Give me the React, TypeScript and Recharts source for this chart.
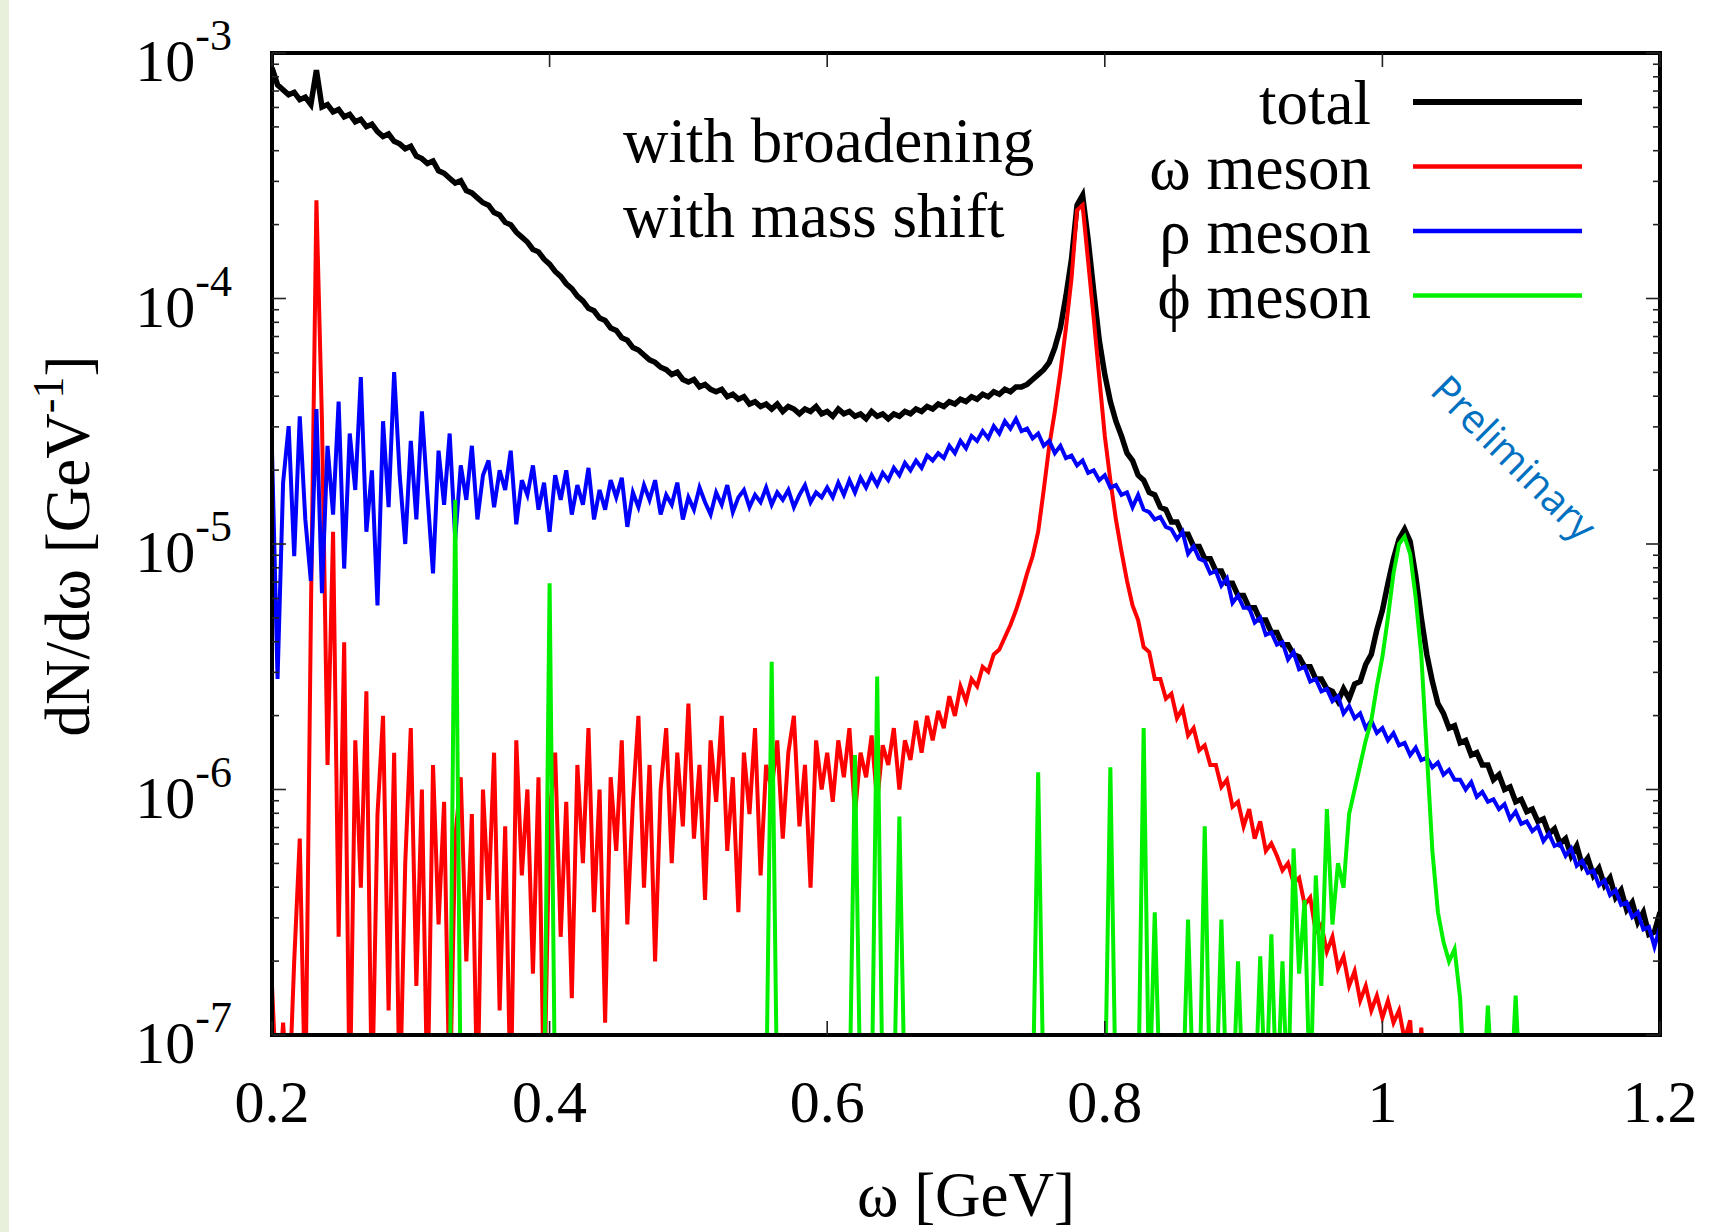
import { Line, LineChart, XAxis, YAxis } from "recharts";

// bin grid of the histogram (GeV)
const W_START = 0.2;
const W_STEP = 0.004;

// log10 of dN/dω, one value per bin
const totalLog = [
  -3.06, -3.13, -3.15, -3.17, -3.16, -3.19, -3.18, -3.21, -3.07, -3.22,
  -3.21, -3.24, -3.23, -3.26, -3.25, -3.28, -3.27, -3.3, -3.29, -3.32,
  -3.34, -3.33, -3.36, -3.37, -3.39, -3.38, -3.42, -3.43, -3.45, -3.44,
  -3.48, -3.49, -3.51, -3.53, -3.52, -3.56, -3.57, -3.59, -3.61, -3.62,
  -3.65, -3.66, -3.69, -3.7, -3.73, -3.75, -3.77, -3.8, -3.81, -3.84,
  -3.86, -3.89, -3.91, -3.94, -3.96, -3.99, -4.01, -4.04, -4.05, -4.08,
  -4.09, -4.12, -4.13, -4.16, -4.17, -4.2, -4.21, -4.23, -4.25, -4.26,
  -4.28, -4.29, -4.31, -4.3, -4.33, -4.34, -4.33, -4.36, -4.35, -4.37,
  -4.38, -4.37, -4.4, -4.39, -4.41, -4.4, -4.43, -4.42, -4.44, -4.43,
  -4.45, -4.43, -4.46, -4.44, -4.45, -4.47, -4.45, -4.46, -4.44, -4.47,
  -4.46, -4.48, -4.45, -4.47, -4.46, -4.48, -4.47, -4.49, -4.46, -4.48,
  -4.47, -4.49, -4.47, -4.48, -4.46, -4.47, -4.45, -4.46, -4.44, -4.45,
  -4.43, -4.44, -4.42, -4.43, -4.41, -4.42, -4.4, -4.41, -4.39, -4.4,
  -4.38, -4.39, -4.37, -4.38, -4.36, -4.36, -4.35, -4.33, -4.31, -4.29,
  -4.26, -4.2, -4.12, -3.99, -3.84, -3.62, -3.58, -3.76, -3.97, -4.17,
  -4.31, -4.42, -4.5, -4.56, -4.63, -4.66, -4.72, -4.74, -4.79, -4.8,
  -4.85, -4.86, -4.91, -4.91, -4.96, -4.96, -5.01, -5.01, -5.06, -5.06,
  -5.11, -5.11, -5.16, -5.16, -5.21, -5.21, -5.26, -5.26, -5.31, -5.31,
  -5.36, -5.36, -5.41, -5.41, -5.45, -5.46, -5.5, -5.5, -5.55, -5.55,
  -5.59, -5.6, -5.64, -5.59, -5.63, -5.57, -5.56, -5.49, -5.45, -5.35,
  -5.27, -5.16, -5.06, -4.98, -4.94, -4.99, -5.13, -5.3, -5.45, -5.56,
  -5.65, -5.69, -5.75, -5.74, -5.81, -5.8, -5.86, -5.85, -5.9, -5.9,
  -5.96, -5.94, -6.0, -5.99, -6.05, -6.04, -6.09, -6.08, -6.13, -6.12,
  -6.18, -6.16, -6.22, -6.2, -6.27, -6.23, -6.31, -6.28, -6.35, -6.32,
  -6.39, -6.36, -6.44, -6.41, -6.49, -6.46, -6.54, -6.5, -6.59, -6.58,
  -6.5,
];

const omegaLog = [
  -6.8, -7.3, -6.95, -7.3, -6.7, -6.2, -7.3, -5.3, -3.6, -4.5,
  -5.9, -4.95, -6.6, -5.4, -7.3, -5.8, -6.4, -5.6, -7.3, -6.1,
  -5.7, -6.9, -5.85, -7.3, -6.3, -5.75, -6.8, -6.0, -7.3, -5.9,
  -6.55, -6.05, -7.3, -6.2, -5.95, -6.7, -6.1, -7.3, -6.0, -6.45,
  -5.85, -6.9, -6.15, -7.3, -5.8, -6.35, -6.0, -6.75, -5.95, -7.3,
  -6.1, -5.85, -6.6, -6.05, -6.85, -5.9, -6.3, -5.75, -6.5, -6.0,
  -6.95, -5.95, -6.25, -5.8, -6.55, -6.05, -5.7, -6.4, -5.9, -6.7,
  -6.0, -5.75, -6.3, -5.85, -6.15, -5.65, -6.2, -5.9, -6.45, -5.8,
  -6.05, -5.7, -6.25, -5.95, -6.5, -5.85, -6.1, -5.75, -6.35, -5.9,
  -6.0, -5.8, -6.2, -5.85, -5.7, -6.15, -5.9, -6.4, -5.8, -6.0,
  -5.85, -6.05, -5.8, -5.95, -5.75, -6.1, -5.85, -5.95, -5.78, -6.05,
  -5.82, -5.9, -5.75, -6.0, -5.8, -5.88, -5.72, -5.85, -5.7, -5.8,
  -5.68, -5.75, -5.62, -5.7, -5.58, -5.64, -5.55, -5.58, -5.5, -5.52,
  -5.45, -5.43, -5.38, -5.33, -5.27, -5.2, -5.12, -5.05, -4.95, -4.78,
  -4.6, -4.46, -4.3, -4.12, -3.92, -3.64, -3.62, -3.85, -4.08, -4.32,
  -4.56, -4.74, -4.9, -5.03, -5.15, -5.25, -5.31, -5.42, -5.44, -5.55,
  -5.55, -5.63, -5.61, -5.71, -5.67, -5.78, -5.75, -5.84, -5.82, -5.9,
  -5.9, -5.99, -5.96, -6.07, -6.05, -6.15, -6.08, -6.2, -6.13, -6.25,
  -6.22, -6.27, -6.33, -6.3, -6.38, -6.36, -6.47, -6.44, -6.58, -6.55,
  -6.66, -6.6, -6.73, -6.68, -6.8, -6.74, -6.86, -6.8, -6.9, -6.84,
  -6.93, -6.86, -6.95, -6.9, -7.02, -6.94, -7.3, -6.97, -7.3, -7.3,
  -7.3, -7.3, -7.3, -7.3, -7.3, -7.3, -7.3, -7.3, -7.3, -7.3,
  -7.3, -7.3, -7.3, -7.3, -7.3, -7.3, -7.3, -7.3, -7.3, -7.3,
  -7.3, -7.3, -7.3, -7.3, -7.3, -7.3, -7.3, -7.3, -7.3, -7.3,
  -7.3, -7.3, -7.3, -7.3, -7.3, -7.3, -7.3, -7.3, -7.3, -7.3,
  -7.3,
];

const rhoLog = [
  -4.62, -5.55, -4.75, -4.52, -5.05, -4.48, -4.9, -5.15, -4.45, -5.2,
  -4.6, -4.88, -4.42, -5.1, -4.55, -4.78, -4.32, -4.95, -4.7, -5.25,
  -4.5, -4.85, -4.3, -4.72, -5.0, -4.58, -4.9, -4.46, -4.8, -5.12,
  -4.62, -4.84, -4.55, -4.98, -4.68, -4.82, -4.6, -4.9, -4.72, -4.66,
  -4.85, -4.7, -4.78, -4.62, -4.92, -4.74, -4.8, -4.68, -4.86, -4.75,
  -4.95, -4.72, -4.82, -4.7, -4.88, -4.76, -4.84, -4.69, -4.9, -4.78,
  -4.86, -4.74, -4.81, -4.73, -4.93, -4.79, -4.85, -4.76, -4.82, -4.74,
  -4.88, -4.8, -4.84, -4.75, -4.9, -4.81, -4.86, -4.77, -4.83, -4.88,
  -4.79, -4.84, -4.76, -4.87, -4.81, -4.78, -4.85, -4.8, -4.83, -4.77,
  -4.84, -4.79, -4.82, -4.78, -4.85, -4.8, -4.76, -4.83, -4.79, -4.81,
  -4.77, -4.81, -4.75, -4.8, -4.74, -4.79, -4.73, -4.77, -4.72, -4.76,
  -4.71, -4.74, -4.69, -4.72, -4.67, -4.7, -4.66, -4.69, -4.64, -4.66,
  -4.63, -4.65, -4.6, -4.63, -4.58, -4.61, -4.56, -4.58, -4.54, -4.57,
  -4.52, -4.55, -4.5, -4.53, -4.49, -4.54, -4.53, -4.57, -4.55, -4.6,
  -4.58, -4.63, -4.6, -4.65, -4.64, -4.68, -4.66, -4.71, -4.7, -4.74,
  -4.72, -4.77, -4.76, -4.8, -4.79, -4.85, -4.8, -4.86, -4.87, -4.9,
  -4.89, -4.93, -4.94, -4.98, -4.95, -5.04, -5.01, -5.06, -5.07, -5.12,
  -5.11, -5.17, -5.14, -5.24, -5.21, -5.26, -5.26, -5.32, -5.3, -5.37,
  -5.36, -5.41, -5.4, -5.47, -5.44, -5.51, -5.5, -5.56, -5.55, -5.6,
  -5.59, -5.64, -5.62, -5.69, -5.66, -5.71, -5.69, -5.75, -5.72, -5.77,
  -5.75, -5.8, -5.77, -5.82, -5.81, -5.86, -5.83, -5.88, -5.87, -5.91,
  -5.89, -5.94, -5.92, -5.96, -5.96, -6.0, -5.97, -6.03, -6.01, -6.05,
  -6.04, -6.08, -6.06, -6.12, -6.09, -6.14, -6.13, -6.17, -6.15, -6.21,
  -6.18, -6.23, -6.22, -6.27, -6.24, -6.31, -6.29, -6.34, -6.33, -6.39,
  -6.37, -6.43, -6.41, -6.47, -6.46, -6.52, -6.5, -6.57, -6.56, -6.64,
  -6.56,
];

const phiLog = [
  -7.3, -7.3, -7.3, -7.3, -7.3, -7.3, -7.3, -7.3, -7.3, -7.3,
  -7.3, -7.3, -7.3, -7.3, -7.3, -7.3, -7.3, -7.3, -7.3, -7.3,
  -7.3, -7.3, -7.3, -7.3, -7.3, -7.3, -7.3, -7.3, -7.3, -7.3,
  -7.3, -7.3, -7.3, -4.82, -7.3, -7.3, -7.3, -7.3, -7.3, -7.3,
  -7.3, -7.3, -7.3, -7.3, -7.3, -7.3, -7.3, -7.3, -7.3, -7.3,
  -5.16, -7.3, -7.3, -7.3, -7.3, -7.3, -7.3, -7.3, -7.3, -7.3,
  -7.3, -7.3, -7.3, -7.3, -7.3, -7.3, -7.3, -7.3, -7.3, -7.3,
  -7.3, -7.3, -7.3, -7.3, -7.3, -7.3, -7.3, -7.3, -7.3, -7.3,
  -7.3, -7.3, -7.3, -7.3, -7.3, -7.3, -7.3, -7.3, -7.3, -7.3,
  -5.48, -7.3, -7.3, -7.3, -7.3, -7.3, -7.3, -7.3, -7.3, -7.3,
  -7.3, -7.3, -7.3, -7.3, -7.3, -5.86, -7.3, -7.3, -7.3, -5.54,
  -7.3, -7.3, -7.3, -6.11, -7.3, -7.3, -7.3, -7.3, -7.3, -7.3,
  -7.3, -7.3, -7.3, -7.3, -7.3, -7.3, -7.3, -7.3, -7.3, -7.3,
  -7.3, -7.3, -7.3, -7.3, -7.3, -7.3, -7.3, -7.3, -5.93, -7.3,
  -7.3, -7.3, -7.3, -7.3, -7.3, -7.3, -7.3, -7.3, -7.3, -7.3,
  -7.3, -5.91, -7.3, -7.3, -7.3, -7.3, -7.3, -5.75, -7.3, -6.5,
  -7.3, -7.3, -7.3, -7.3, -7.3, -6.53, -7.3, -7.3, -6.15, -7.3,
  -7.3, -6.53, -7.3, -7.3, -6.7, -7.3, -7.3, -7.3, -6.68, -7.3,
  -6.59, -7.3, -6.7, -7.3, -6.24, -6.75, -6.45, -7.3, -6.35, -6.8,
  -6.08, -6.55, -6.3, -6.4, -6.1, -6.0, -5.9, -5.8, -5.72, -5.58,
  -5.46, -5.3, -5.12, -5.0, -4.97, -5.04, -5.22, -5.45, -5.85, -6.25,
  -6.5, -6.62, -6.7, -6.65, -6.85, -7.3, -7.3, -7.3, -7.3, -6.88,
  -7.3, -7.3, -7.3, -7.3, -6.84, -7.3, -7.3, -7.3, -7.3, -7.3,
  -7.3, -7.3, -7.3, -7.3, -7.3, -7.3, -7.3, -7.3, -7.3, -7.3,
  -7.3, -7.3, -7.3, -7.3, -7.3, -7.3, -7.3, -7.3, -7.3, -7.3,
  -7.3,
];

const xTicks = [0.2, 0.4, 0.6, 0.8, 1, 1.2];
const yMajor = [1e-7, 1e-6, 1e-5, 1e-4, 1e-3];
const yMinorMantissa = [2, 3, 4, 5, 6, 7, 8, 9];

const series = [
  { key: "total", name: "total", color: "#000000", width: 5.5 },
  { key: "omega", name: "ω meson", color: "#ff0000", width: 4 },
  { key: "rho", name: "ρ meson", color: "#0000ff", width: 4 },
  { key: "phi", name: "ϕ meson", color: "#00f000", width: 4 },
];

const rows = totalLog.map((t, i) => ({
  w: Number((W_START + W_STEP * i).toFixed(3)),
  total: 10 ** t,
  omega: 10 ** omegaLog[i],
  rho: 10 ** rhoLog[i],
  phi: 10 ** phiLog[i],
}));

const yTicks = [
  ...yMajor,
  ...yMajor.slice(0, 4).flatMap((d) => yMinorMantissa.map((m) => m * d)),
].sort((a, b) => a - b);

const SERIF = "'Liberation Serif', 'Times New Roman', serif";
const frame = { stroke: "#000", strokeWidth: 4, strokeLinecap: "square" as const };
const tickStroke = { stroke: "#222", strokeWidth: 1.6 };

const isMajor = (v: number) =>
  Math.abs(Math.log10(v) - Math.round(Math.log10(v))) < 1e-6;

const LeftTick = (props: any) => {
  const { x, y, payload } = props;
  const major = isMajor(payload.value);
  return (
    <g>
      <line x1={x} x2={x + (major ? 14 : 7)} y1={y} y2={y} {...tickStroke} />
      {major && (
        <text x={x - 40} y={y + 28} textAnchor="end" fontFamily={SERIF} fontSize={60} fill="#000">
          10
          <tspan dy={-31} fontSize={44}>
            {String(Math.round(Math.log10(payload.value)))}
          </tspan>
        </text>
      )}
    </g>
  );
};

const RightTick = (props: any) => {
  const { x, y, payload } = props;
  const major = isMajor(payload.value);
  return <line x1={x} x2={x - (major ? 14 : 7)} y1={y} y2={y} {...tickStroke} />;
};

const BottomTick = (props: any) => {
  const { x, y, payload } = props;
  return (
    <g>
      <line x1={x} x2={x} y1={y} y2={y - 14} {...tickStroke} />
      <text x={x} y={y + 87} textAnchor="middle" fontFamily={SERIF} fontSize={60} fill="#000">
        {String(payload.value)}
      </text>
    </g>
  );
};

const TopTick = (props: any) => {
  const { x, y } = props;
  return <line x1={x} x2={x} y1={y} y2={y + 14} {...tickStroke} />;
};

export default function App() {
  return (
    <div
      style={{
        position: "absolute",
        left: 0,
        top: 0,
        width: 1716,
        height: 1232,
        background: "#fff",
        overflow: "hidden",
      }}
    >
      <div style={{ position: "absolute", left: 0, top: 0, width: 9, height: 1232, background: "#e8f0dc" }} />
      <div style={{ position: "absolute", left: 0, top: 0 }}>
        <LineChart width={1716} height={1232} data={rows} margin={{ top: 0, right: 0, bottom: 0, left: 0 }}>
          <XAxis
            xAxisId="bottom"
            dataKey="w"
            type="number"
            orientation="bottom"
            domain={[0.2, 1.2]}
            allowDataOverflow
            ticks={xTicks}
            interval={0}
            height={197}
            tickSize={0}
            tickMargin={0}
            tickLine={false}
            axisLine={frame}
            tick={<BottomTick />}
          />
          <XAxis
            xAxisId="top"
            dataKey="w"
            type="number"
            orientation="top"
            domain={[0.2, 1.2]}
            allowDataOverflow
            ticks={xTicks}
            interval={0}
            height={53}
            tickSize={0}
            tickMargin={0}
            tickLine={false}
            axisLine={frame}
            tick={<TopTick />}
          />
          <YAxis
            yAxisId="left"
            type="number"
            scale="log"
            orientation="left"
            domain={[1e-7, 1e-3]}
            allowDataOverflow
            ticks={yTicks}
            interval={0}
            width={272}
            tickSize={0}
            tickMargin={0}
            tickLine={false}
            axisLine={frame}
            tick={<LeftTick />}
          />
          <YAxis
            yAxisId="right"
            type="number"
            scale="log"
            orientation="right"
            domain={[1e-7, 1e-3]}
            allowDataOverflow
            ticks={yTicks}
            interval={0}
            width={56}
            tickSize={0}
            tickMargin={0}
            tickLine={false}
            axisLine={frame}
            tick={<RightTick />}
          />
          {series.map((s) => (
            <Line
              key={s.key}
              xAxisId="bottom"
              yAxisId="left"
              type="linear"
              dataKey={s.key}
              name={s.name}
              stroke={s.color}
              strokeWidth={s.width}
              dot={false}
              activeDot={false}
              isAnimationActive={false}
            />
          ))}
        </LineChart>
      </div>
      <svg
        width={1716}
        height={1232}
        style={{ position: "absolute", left: 0, top: 0, pointerEvents: "none" }}
      >
        <g fontFamily={SERIF} fill="#000">
          {series.map((s, k) => {
            const rowY = 102 + 64.5 * k;
            return (
              <g key={s.key}>
                <text x={1371} y={rowY + 22} textAnchor="end" fontSize={63}>
                  {s.name}
                </text>
                <line x1={1413} x2={1582} y1={rowY} y2={rowY} stroke={s.color} strokeWidth={s.key === "total" ? 6 : 4.5} />
              </g>
            );
          })}
          <text x={623} y={162} fontSize={63}>
            with broadening
          </text>
          <text x={623} y={237} fontSize={63}>
            with mass shift
          </text>
          <text x={966} y={1216} textAnchor="middle" fontSize={63}>
            ω [GeV]
          </text>
          <text transform="translate(89 546) rotate(-90)" textAnchor="middle" fontSize={63}>
            dN/dω [GeV
            <tspan dy={-26} fontSize={44}>
              -1
            </tspan>
            <tspan dy={26}>]</tspan>
          </text>
        </g>
        <text
          transform="translate(1515 457) rotate(45)"
          textAnchor="middle"
          dominantBaseline="central"
          fontFamily="'Open Sans', 'Noto Sans', sans-serif"
          fontSize={40}
          fill="#0070c0"
        >
          Preliminary
        </text>
      </svg>
    </div>
  );
}
